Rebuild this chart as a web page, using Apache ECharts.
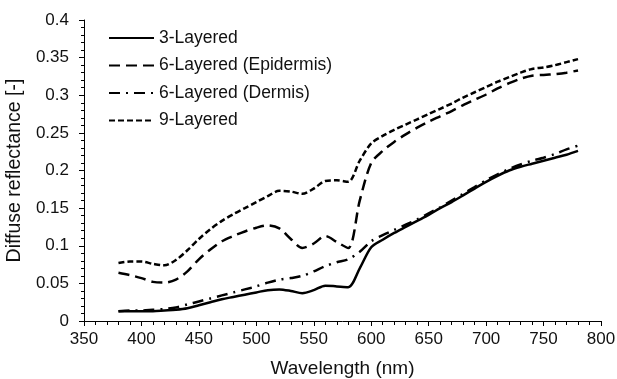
<!DOCTYPE html>
<html>
<head>
<meta charset="utf-8">
<script src="https://cdn.jsdelivr.net/npm/echarts@6/dist/echarts.min.js"></script>
<style>
  html, body { margin: 0; padding: 0; background: #fff; }
  #chart_one { width: 617px; height: 379px; }
</style>
</head>
<body>
<div id="chart_one"></div>
<script>
// wavelengths (nm), every 10 nm
const wavelength = [380, 390, 400, 410, 420, 430, 440, 450, 460, 470, 480, 490, 500, 510, 520, 530, 540, 550, 560, 570, 580,
  590, 600, 610, 620, 630, 640, 650, 660, 670, 680, 690, 700, 710, 720, 730, 740, 750, 760, 770, 780];

const layered3 = [0.013, 0.013, 0.013, 0.013, 0.014, 0.015, 0.017, 0.021, 0.025, 0.029, 0.032, 0.035, 0.038, 0.041, 0.042, 0.040, 0.037, 0.041, 0.047, 0.046, 0.045,
  0.070, 0.098, 0.108, 0.117, 0.125, 0.133, 0.141, 0.150, 0.158, 0.167, 0.176, 0.185, 0.193, 0.200, 0.205, 0.209, 0.213, 0.217, 0.221, 0.226];

const layered6Epi = [0.064, 0.061, 0.057, 0.052, 0.051, 0.055, 0.066, 0.082, 0.095, 0.106, 0.113, 0.119, 0.124, 0.127, 0.123, 0.109, 0.097, 0.103, 0.113, 0.105, 0.097,
  0.160, 0.210, 0.226, 0.238, 0.248, 0.257, 0.265, 0.272, 0.279, 0.287, 0.294, 0.301, 0.309, 0.316, 0.322, 0.326, 0.327, 0.328, 0.330, 0.333];

const layered6Der = [0.013, 0.014, 0.014, 0.015, 0.016, 0.018, 0.022, 0.026, 0.030, 0.034, 0.038, 0.042, 0.046, 0.051, 0.055, 0.057, 0.060, 0.066, 0.073, 0.078, 0.082,
  0.092, 0.106, 0.114, 0.121, 0.128, 0.135, 0.143, 0.151, 0.160, 0.169, 0.178, 0.187, 0.195, 0.202, 0.208, 0.213, 0.217, 0.222, 0.228, 0.233];

const layered9 = [0.077, 0.079, 0.079, 0.076, 0.074, 0.081, 0.094, 0.109, 0.122, 0.133, 0.142, 0.150, 0.158, 0.166, 0.173, 0.172, 0.169, 0.176, 0.186, 0.187, 0.185,
  0.213, 0.236, 0.246, 0.254, 0.261, 0.268, 0.275, 0.282, 0.289, 0.297, 0.304, 0.311, 0.318, 0.324, 0.330, 0.335, 0.337, 0.340, 0.344, 0.348];

const seriesNames = ['3-Layered', '6-Layered (Epidermis)', '6-Layered (Dermis)', '9-Layered'];

function pairs(ys) {
  return wavelength.map((x, i) => [x, ys[i]]);
}

var theDom = document.getElementById('chart_one');
var myChart = echarts.init(theDom);
var textColor = '#111';
var font = 'Liberation Sans, Arial, sans-serif';

function lineSeries(name, ys, dash) {
  return {
    name: name,
    type: 'line',
    smooth: 0.3,
    symbol: 'none',
    showSymbol: false,
    animation: false,
    lineStyle: { color: '#000', width: 2.5, type: dash },
    itemStyle: { color: '#000' },
    data: pairs(ys)
  };
}

var option = {
  animation: false,
  textStyle: { fontFamily: font },
  legend: {
    orient: 'vertical',
    left: 108,
    top: 28,
    padding: 0,
    itemWidth: 45,
    itemHeight: 14,
    itemGap: 7.5,
    itemStyle: { opacity: 0 },
    textStyle: { fontSize: 17.5, color: textColor, fontFamily: font, lineHeight: 20 },
    data: seriesNames
  },
  grid: {
    left: 84,
    right: 16,
    top: 20,
    bottom: 58,
    outerBoundsMode: 'none'
  },
  xAxis: {
    type: 'value',
    min: 350,
    max: 800,
    interval: 50,
    name: 'Wavelength (nm)',
    nameLocation: 'middle',
    nameGap: 38,
    nameTextStyle: { fontSize: 19, color: textColor, fontFamily: font },
    axisLine: { lineStyle: { color: '#000', width: 1 } },
    axisTick: { show: true, inside: false, length: 5, lineStyle: { color: '#000' } },
    minorTick: { show: true, splitNumber: 5, length: 4, lineStyle: { color: '#000' } },
    splitLine: { show: false },
    axisLabel: { fontSize: 17, color: textColor, margin: 10, fontFamily: font }
  },
  yAxis: {
    type: 'value',
    min: 0,
    max: 0.4,
    interval: 0.05,
    name: 'Diffuse reflectance [-]',
    nameLocation: 'middle',
    nameGap: 52,
    nameTextStyle: { fontSize: 19.5, color: textColor, fontFamily: font },
    axisLine: { show: true, lineStyle: { color: '#000', width: 1 } },
    axisTick: { show: true, inside: false, length: 5, lineStyle: { color: '#000' } },
    minorTick: { show: true, splitNumber: 5, length: 3, lineStyle: { color: '#000' } },
    splitLine: { show: false },
    axisLabel: { fontSize: 17, color: textColor, margin: 15, fontFamily: font }
  },
  series: [
    lineSeries(seriesNames[0], layered3, 'solid'),
    lineSeries(seriesNames[1], layered6Epi, [11, 6]),
    lineSeries(seriesNames[2], layered6Der, [11, 6, 2, 6]),
    lineSeries(seriesNames[3], layered9, [6, 3])
  ]
};

myChart.setOption(option);
</script>
</body>
</html>
